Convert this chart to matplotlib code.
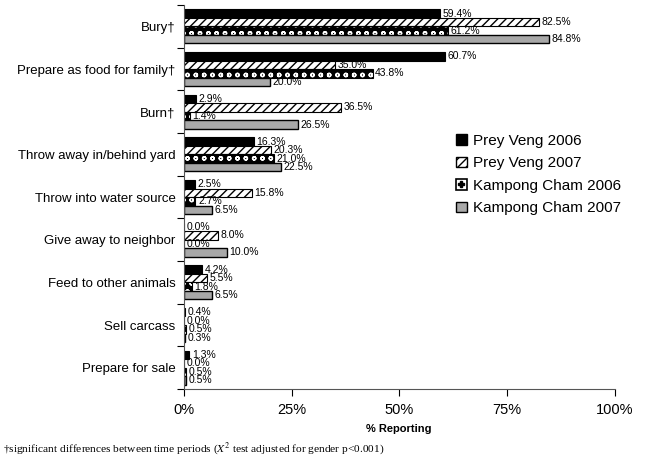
import matplotlib.pyplot as plt
import numpy as np
from matplotlib.patches import Patch
from matplotlib.lines import Line2D

plt.rcParams['font.family'] = ['Liberation Sans', 'DejaVu Sans']
plt.rcParams['mathtext.fontset'] = 'stix'

categories = ['Bury\u2020', 'Prepare as food for family\u2020', 'Burn\u2020',
              'Throw away in/behind yard', 'Throw into water source',
              'Give away to neighbor', 'Feed to other animals',
              'Sell carcass', 'Prepare for sale']
series = ['Prey Veng 2006', 'Prey Veng 2007', 'Kampong Cham 2006', 'Kampong Cham 2007']
pv2006 = [59.4, 60.7, 2.9, 16.3, 2.5, 0.0, 4.2, 0.4, 1.3]
pv2007 = [82.5, 35.0, 36.5, 20.3, 15.8, 8.0, 5.5, 0.0, 0.0]
kc2006 = [61.2, 43.8, 1.4, 21.0, 2.7, 0.0, 1.8, 0.5, 0.5]
kc2007 = [84.8, 20.0, 26.5, 22.5, 6.5, 10.0, 6.5, 0.3, 0.5]

fig = plt.figure(figsize=(6.61, 4.62), dpi=100)
ax = fig.add_axes([0.278, 0.158, 0.652, 0.831])

n = len(categories)
y = np.arange(n)
h = 0.2
offsets = [-1.5 * h, -0.5 * h, 0.5 * h, 1.5 * h]
allvals = [pv2006, pv2007, kc2006, kc2007]

# Prey Veng 2006 - solid black
ax.barh(y + offsets[0], pv2006, h, color='black', edgecolor='black', linewidth=0.8)
# Prey Veng 2007 - diagonal hatch
ax.barh(y + offsets[1], pv2007, h, color='white', edgecolor='black', hatch='////', linewidth=0.8)
# Kampong Cham 2006 - white dots on black
ax.barh(y + offsets[2], kc2006, h, color='black', edgecolor='white', hatch='oo', linewidth=0)
ax.barh(y + offsets[2], kc2006, h, fill=False, edgecolor='black', linewidth=0.8)
# Kampong Cham 2007 - gray
ax.barh(y + offsets[3], kc2007, h, color='#a8a8a8', edgecolor='black', linewidth=1.0)

for vals, off in zip(allvals, offsets):
    for i, v in enumerate(vals):
        ax.text(v + 0.6, y[i] + off, f'{v:.1f}%', fontsize=7.5, va='center', ha='left')

ax.set_ylim(n - 0.5, -0.5)
ax.set_xlim(0, 100)
ax.set_yticks(y)
ax.set_yticklabels(categories, fontsize=9.5)
ax.set_yticks(np.arange(-0.5, n, 1), minor=True)
ax.tick_params(axis='y', which='major', length=0, pad=6)
ax.tick_params(axis='y', which='minor', length=5, width=0.8, direction='out')
ax.set_xticks([0, 25, 50, 75, 100])
ax.set_xticklabels(['0%', '25%', '50%', '75%', '100%'], fontsize=10.5)
ax.tick_params(axis='x', length=5, width=0.8, pad=5)
ax.set_xlabel('% Reporting', fontsize=8, fontweight='bold', labelpad=5)
for s in ['top', 'right']:
    ax.spines[s].set_visible(False)
ax.spines['left'].set_color('#555555')
ax.spines['bottom'].set_color('#555555')

handles = [Patch(facecolor='black', edgecolor='black'),
           Patch(facecolor='white', edgecolor='black', hatch='////'),
           (Patch(facecolor='white', edgecolor='black', linewidth=1.2),
            Line2D([], [], marker='P', color='black', linestyle='', markersize=5)),
           Patch(facecolor='#a8a8a8', edgecolor='black')]
ax.legend(handles, series, loc='upper left', bbox_to_anchor=(0.6, 0.7), frameon=False,
          fontsize=11, handlelength=0.7, handleheight=0.7, handletextpad=0.4, labelspacing=0.55)

fig.text(0.005, 0.022, '\u2020significant differences between time periods ($\\mathit{X}^2$ test adjusted for gender p<0.001)',
         fontsize=8.2, family=['Liberation Serif', 'DejaVu Serif'])

fig.savefig('out.png', dpi=100)
